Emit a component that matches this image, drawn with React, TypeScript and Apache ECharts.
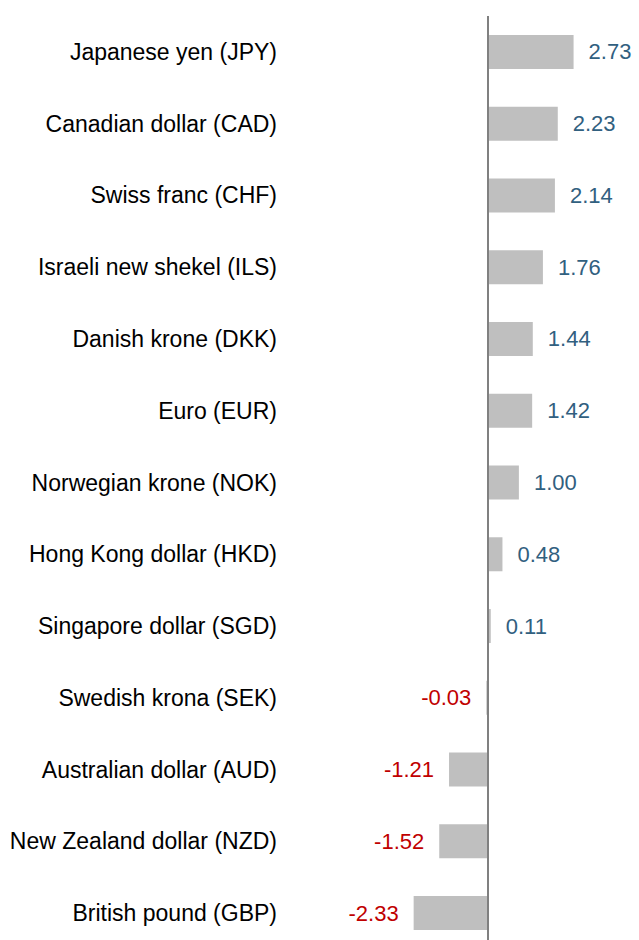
import React, { useEffect, useRef } from "react";
import * as echarts from "echarts";

const categories = [
  "Japanese yen (JPY)",
  "Canadian dollar (CAD)",
  "Swiss franc (CHF)",
  "Israeli new shekel (ILS)",
  "Danish krone (DKK)",
  "Euro (EUR)",
  "Norwegian krone (NOK)",
  "Hong Kong dollar (HKD)",
  "Singapore dollar (SGD)",
  "Swedish krona (SEK)",
  "Australian dollar (AUD)",
  "New Zealand dollar (NZD)",
  "British pound (GBP)",
];

const values = [2.73, 2.23, 2.14, 1.76, 1.44, 1.42, 1.0, 0.48, 0.11, -0.03, -1.21, -1.52, -2.33];

const POS_COLOR = "#31607f";
const NEG_COLOR = "#c00000";
const FONT = "'Liberation Sans', Arial, sans-serif";

export default function App() {
  const ref = useRef<HTMLDivElement>(null);
  useEffect(() => {
    if (!ref.current) return;
    const chart = echarts.init(ref.current, undefined, { renderer: "svg" });
    const data = values.map((v) => ({
      value: v,
      label: {
        show: true,
        position: v >= 0 ? "right" : "left",
        distance: 15,
        color: v >= 0 ? POS_COLOR : NEG_COLOR,
        fontSize: 22,
        fontFamily: FONT,
        formatter: (p: any) => Number(p.value).toFixed(2),
      },
    }));
    chart.setOption({
      animation: false,
      backgroundColor: "#ffffff",
      grid: { top: 16, height: 933, left: 285, width: 354, containLabel: false },
      xAxis: {
        type: "value",
        min: -6.4,
        max: 4.8,
        show: false,
      },
      yAxis: {
        type: "category",
        data: categories,
        inverse: true,
        axisLine: { show: false },
        axisTick: { show: false },
        splitLine: { show: false },
        axisLabel: {
          margin: 8,
          fontSize: 23,
          fontFamily: FONT,
          color: "#000000",
        },
      },
      series: [
        {
          type: "bar",
          data,
          barWidth: 34,
          itemStyle: { color: "#bfbfbf" },
          markLine: {
            silent: true,
            symbol: "none",
            label: { show: false },
            lineStyle: { color: "#808080", width: 2, type: "solid" },
            data: [{ xAxis: 0 }],
          },
        },
      ],
    });
    return () => chart.dispose();
  }, []);
  return (
    <div style={{ position: "absolute", left: 0, top: 0, width: 639, height: 940, overflow: "hidden" }}>
      <div ref={ref} style={{ width: 639, height: 960 }} />
    </div>
  );
}
